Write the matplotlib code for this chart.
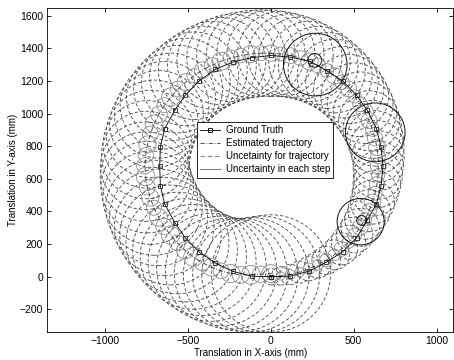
#!/usr/bin/env python3
"""
Trajectory with growing uncertainty circles (MATLAB-style figure).
"""

import matplotlib
matplotlib.use("Agg")
import matplotlib.pyplot as plt
from matplotlib.patches import Circle
from matplotlib.lines import Line2D

plt.rcParams["font.family"] = ["Liberation Sans", "DejaVu Sans"]

# ground truth (read from the squares)
gt_x = [0, 115, 233, 335, 434, 517, 582, 637, 665, 677, 665, 637, 582, 517, 434, 339,
        237, 115, 0, -116, -229, -335, -432, -517, -580, -641, -667, -671, -667, -641,
        -580, -517, -432, -335, -229, -116, 0]
gt_y = [0, 4, 35, 90, 153, 238, 348, 446, 556, 678, 796, 908, 1020, 1112, 1200, 1261,
        1320, 1346, 1356, 1342, 1316, 1271, 1200, 1112, 1020, 908, 796, 680, 556, 446,
        332, 240, 151, 84, 33, 4, 0]

# estimated trajectory
est_x = [0, 59, 117, 174, 230, 283, 334, 382, 427, 468, 506, 539, 568, 593, 613, 629,
         640, 647, 648, 647, 640, 629, 613, 593, 568, 539, 506, 470, 429, 385, 337, 286,
         233, 177, 119, 60, 0, -60, -121, -181, -240, -299, -356, -411, -463, -513, -560,
         -603, -642, -676, -705, -727, -745, -755, -760, -756, -746, -728, -706, -678,
         -644, -606, -564, -518, -468, -415, -359, -301, -242, -182, -121, -61, 0]
est_y = [0, 5, 14, 29, 49, 73, 101, 134, 171, 212, 256, 303, 352, 404, 457, 512, 567,
         623, 680, 737, 793, 848, 903, 956, 1008, 1057, 1105, 1150, 1192, 1230, 1264,
         1294, 1319, 1340, 1355, 1365, 1370, 1370, 1365, 1355, 1341, 1321, 1296, 1267,
         1232, 1193, 1150, 1102, 1051, 995, 937, 875, 811, 746, 680, 614, 549, 485, 423,
         364, 308, 256, 207, 162, 122, 88, 58, 36, 20, 12, 12, 16, 20]

# accumulated uncertainty radius at each step
traj_r = [50, 56, 62, 68, 74, 80, 86, 92, 98, 104, 110, 116, 122, 128, 134, 139, 144,
          148, 152, 158, 164, 170, 177, 184, 191, 198, 205, 212, 219, 226, 233, 240, 246,
          252, 257, 261, 265, 266, 267, 267, 268, 268, 268, 268, 268, 268, 268, 268, 268,
          268, 268, 268, 268, 268, 268, 274, 280, 286, 291, 296, 301, 306, 311, 316, 321,
          326, 331, 336, 341, 346, 351, 356, 360]

# per-step uncertainty radius
step_r = [20, 25, 30, 28, 35, 32, 40, 36, 45, 38, 42, 48, 40, 44, 50, 42, 46, 40, 48,
          44, 50, 46, 42, 48, 52, 45, 40, 48, 44, 50, 42, 46, 52, 45, 48, 42, 50, 46, 52,
          44, 48, 55, 46, 50, 44, 52, 48, 56, 46, 50, 54, 48, 52, 46, 50, 56, 48, 52, 46,
          54, 50, 56, 48, 52, 58, 50, 54, 48, 56, 52, 58, 50, 55]

# steps drawn in black
key_x = [268, 630, 542, 265, 548]
key_y = [1300, 885, 338, 1326, 345]
key_r = [192, 180, 142, 42, 30]

fig = plt.figure(figsize=(4.54, 3.6), dpi=100)
ax = fig.add_axes([0.104, 0.077, 0.894, 0.900])

for x, y, r in zip(est_x, est_y, traj_r):
    ax.add_patch(Circle((x, y), r, fill=False, ec="#444444", lw=0.6,
                        ls=(0, (4, 2.5))))
for x, y, r in zip(est_x, est_y, step_r):
    ax.add_patch(Circle((x, y), r, fill=False, ec="#8a8a8a", lw=0.6))
for x, y, r in zip(key_x, key_y, key_r):
    ax.add_patch(Circle((x, y), r, fill=False, ec="#111111", lw=0.7))

ax.plot(est_x, est_y, color="#333333", lw=0.6, ls=(0, (5, 2, 1, 2)))
ax.plot(gt_x, gt_y, color="black", lw=0.6, marker="s", ms=3.5, mfc="none",
        mec="#222222", mew=0.6)

ax.set_xlim(-1350, 1100)
ax.set_ylim(-340, 1645)
ax.set_xticks([-1000, -500, 0, 500, 1000])
ax.set_yticks(range(-200, 1601, 200))
ax.tick_params(direction="in", length=3, width=0.6, labelsize=7.5,
               top=True, right=True, pad=3)
for s in ax.spines.values():
    s.set_linewidth(0.6)

ax.set_xlabel("Translation in X-axis (mm)", fontsize=7, labelpad=1)
ax.set_ylabel("Translation in Y-axis (mm)", fontsize=7, labelpad=1)

handles = [
    Line2D([], [], color="black", lw=0.6, marker="s", ms=3.5, mfc="none", mew=0.6),
    Line2D([], [], color="#333333", lw=0.6, ls=(0, (5, 2, 1, 2))),
    Line2D([], [], color="#888888", lw=0.8, ls=(0, (4, 2.5))),
    Line2D([], [], color="#888888", lw=0.8),
]
labels = ["Ground Truth", "Estimated trajectory", "Uncetainty for trajectory",
          "Uncertainty in each step"]
leg = ax.legend(handles, labels, loc="center", bbox_to_anchor=(0.537, 0.563),
                fontsize=7, frameon=True, fancybox=False, framealpha=1,
                edgecolor="black", handlelength=2.0, handletextpad=0.6,
                borderpad=0.35, labelspacing=0.3, borderaxespad=0)
leg.get_frame().set_linewidth(0.6)

fig.savefig("out.png", dpi=100)
